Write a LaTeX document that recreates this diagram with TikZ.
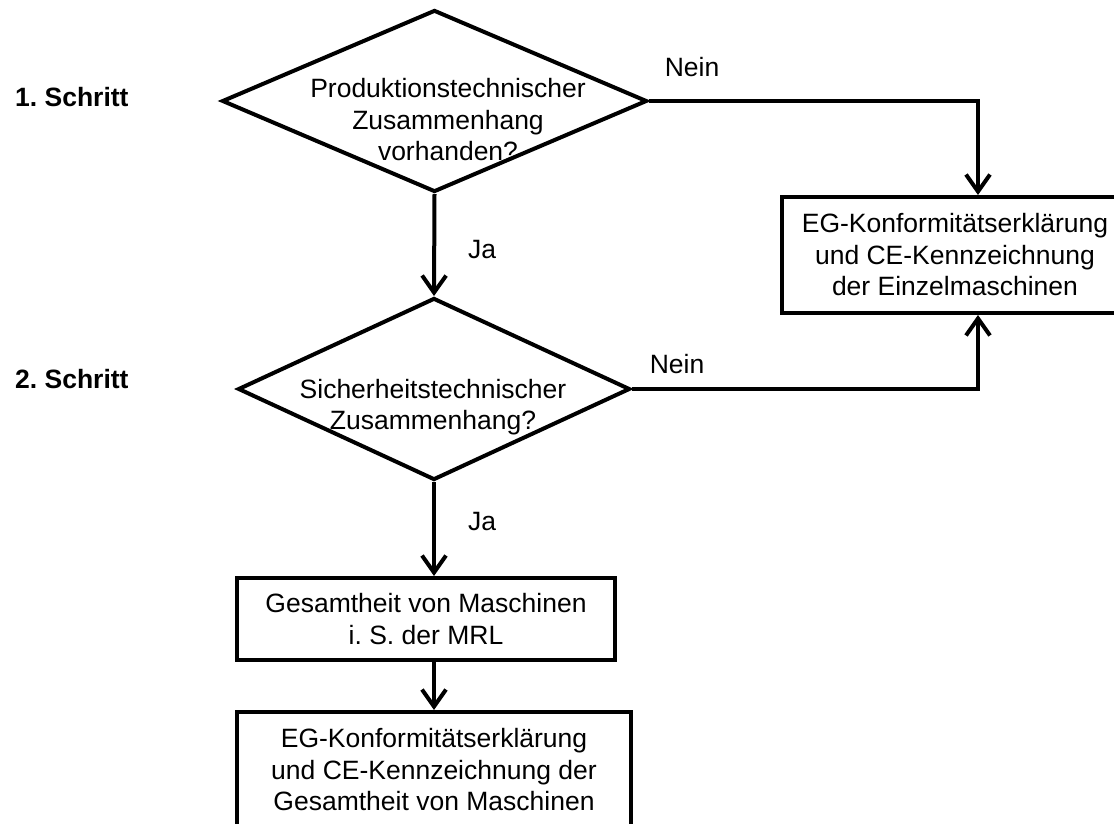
\documentclass[tikz,border=0pt]{standalone}
\usepackage{fontspec}
\setmainfont{Liberation Sans}
\usetikzlibrary{arrows.meta,shapes.geometric}
\frenchspacing
\begin{document}
\begin{tikzpicture}[x=1pt,y=-1pt,
  every node/.style={font=\fontsize{26.5pt}{31.5pt}\selectfont\frenchspacing, inner sep=0pt},
  arr/.style={line width=4pt, -{Straight Barb[length=17pt,width=24pt]}},
  dec/.style={diamond, draw, line width=4pt, inner sep=0pt},
  box/.style={rectangle, draw, line width=4pt, align=center, inner sep=0pt},
  lab/.style={anchor=base},
  step label/.style={anchor=base west, font=\fontsize{26.5pt}{31.5pt}\selectfont\bfseries\frenchspacing}
]
\clip (0,0) rectangle (1114,824);
\useasboundingbox (0,0) rectangle (1114,824);
\fill[white] (0,0) rectangle (1114,824);

% decisions
\node[dec, minimum width=425pt, minimum height=182pt] (d1) at (434.5,101) {};
\node[align=center] (t1) at (448,120) {Produktionstechnischer\\Zusammenhang\\vorhanden?};
\node[dec, minimum width=392pt, minimum height=182pt] (d2) at (434,389) {};
\node[align=center] (t2) at (433,407) {Sicherheitstechnischer\\Zusammenhang?};

% boxes
\node[box, minimum width=346pt, minimum height=116pt] (rb) at (955,255)
  {EG-Konformitätserklärung\\und CE-Kennzeichnung\\der Einzelmaschinen};
\node[box, minimum width=378pt, minimum height=82pt] (b1) at (426,619)
  {Gesamtheit von Maschinen\\i. S. der MRL};
\node[box, minimum width=394pt, minimum height=116pt] (b2) at (434,770)
  {EG-Konformitätserklärung\\und CE-Kennzeichnung der\\Gesamtheit von Maschinen};

% turn points
\coordinate (c1) at (978,101);
\coordinate (c2) at (978,389);

% connectors
\draw[arr] (d1.south) -- (d2.north);
\draw[arr] (d2.south) -- (d2.south |- b1.north);
\draw[arr] (d2.south |- b1.south) -- (d2.south |- b2.north);
\draw[arr] (d1.east) -- (c1) -- (c1 |- rb.north);
\draw[arr] (d2.east) -- (c2) -- (c2 |- rb.south);

% labels
\node[lab] (n1) at (692,77) {Nein};
\node[lab] (n2) at (677,373) {Nein};
\node[lab] (j1) at (482,258) {Ja};
\node[lab] (j2) at (482,530) {Ja};
\node[step label] (s1) at (15,107) {1. Schritt};
\node[step label] (s2) at (15,388) {2. Schritt};
\end{tikzpicture}
\end{document}
